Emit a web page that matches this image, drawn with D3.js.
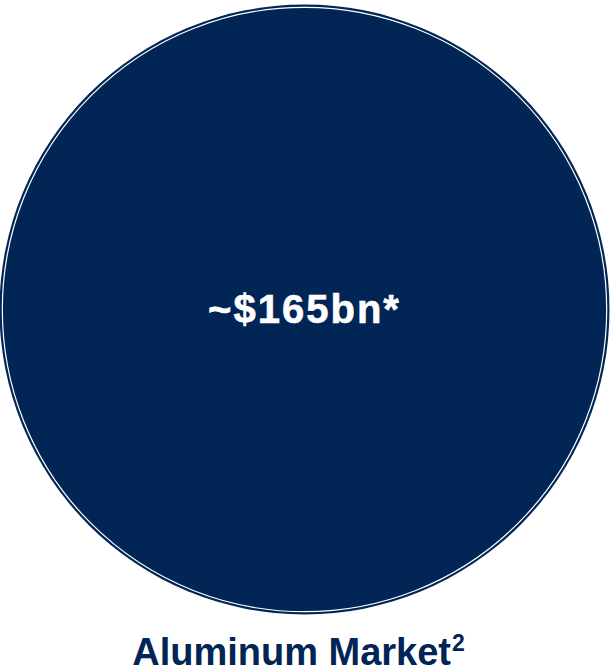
<!DOCTYPE html>
<html>
<head>
<meta charset="utf-8">
<script src="https://cdn.jsdelivr.net/npm/d3@7"></script>
<style>
  html, body { margin: 0; padding: 0; background: #ffffff; }
  svg { display: block; }
</style>
</head>
<body>
<div id="chart"></div>
<script>
// Market size bubble
const categories = ["Aluminum Market"];
const values = [165];              // USD billions
const valueLabels = ["~$165bn*"];
const footnotes = ["2"];

const width = 615, height = 670;
const navy = "#012555";
const font = "'Liberation Sans', Arial, Helvetica, sans-serif";

const svg = d3.select("#chart").append("svg")
  .attr("width", width)
  .attr("height", height);

// Area-proportional radius
const r = d3.scaleSqrt().domain([0, d3.max(values)]).range([0, 305]);
const cx = 304.5, cy = 309.5;

const g = svg.selectAll("g.bubble")
  .data(categories.map((c, i) => ({ name: c, value: values[i], label: valueLabels[i], note: footnotes[i] })))
  .join("g")
  .attr("class", "bubble")
  .attr("transform", `translate(${cx},${cy})`);

g.append("circle")
  .attr("r", d => r(d.value))
  .attr("fill", navy);

// thin inner white ring
g.append("circle")
  .attr("r", d => r(d.value) - 2.8)
  .attr("fill", "none")
  .attr("stroke", "#ffffff")
  .attr("stroke-width", 1.2);

// value label, with a hairline stroke to thicken the bold glyphs
g.append("text")
  .attr("text-anchor", "middle")
  .attr("x", 0)
  .attr("y", 13.5)
  .attr("fill", "#ffffff")
  .attr("stroke", "#ffffff")
  .attr("stroke-width", 0.6)
  .style("font-family", font)
  .style("font-weight", "bold")
  .style("font-size", "40px")
  .style("letter-spacing", "2px")
  .text(d => d.label);

const lab = g.append("text")
  .attr("text-anchor", "middle")
  .attr("x", -6)
  .attr("y", d => 665 - cy)
  .attr("fill", navy)
  .style("font-family", font)
  .style("font-weight", "bold")
  .style("font-size", "38px");
lab.append("tspan").text(d => d.name);
lab.append("tspan")
  .attr("dy", -14)
  .attr("dx", 1)
  .style("font-size", "23px")
  .text(d => d.note);
</script>
</body>
</html>
